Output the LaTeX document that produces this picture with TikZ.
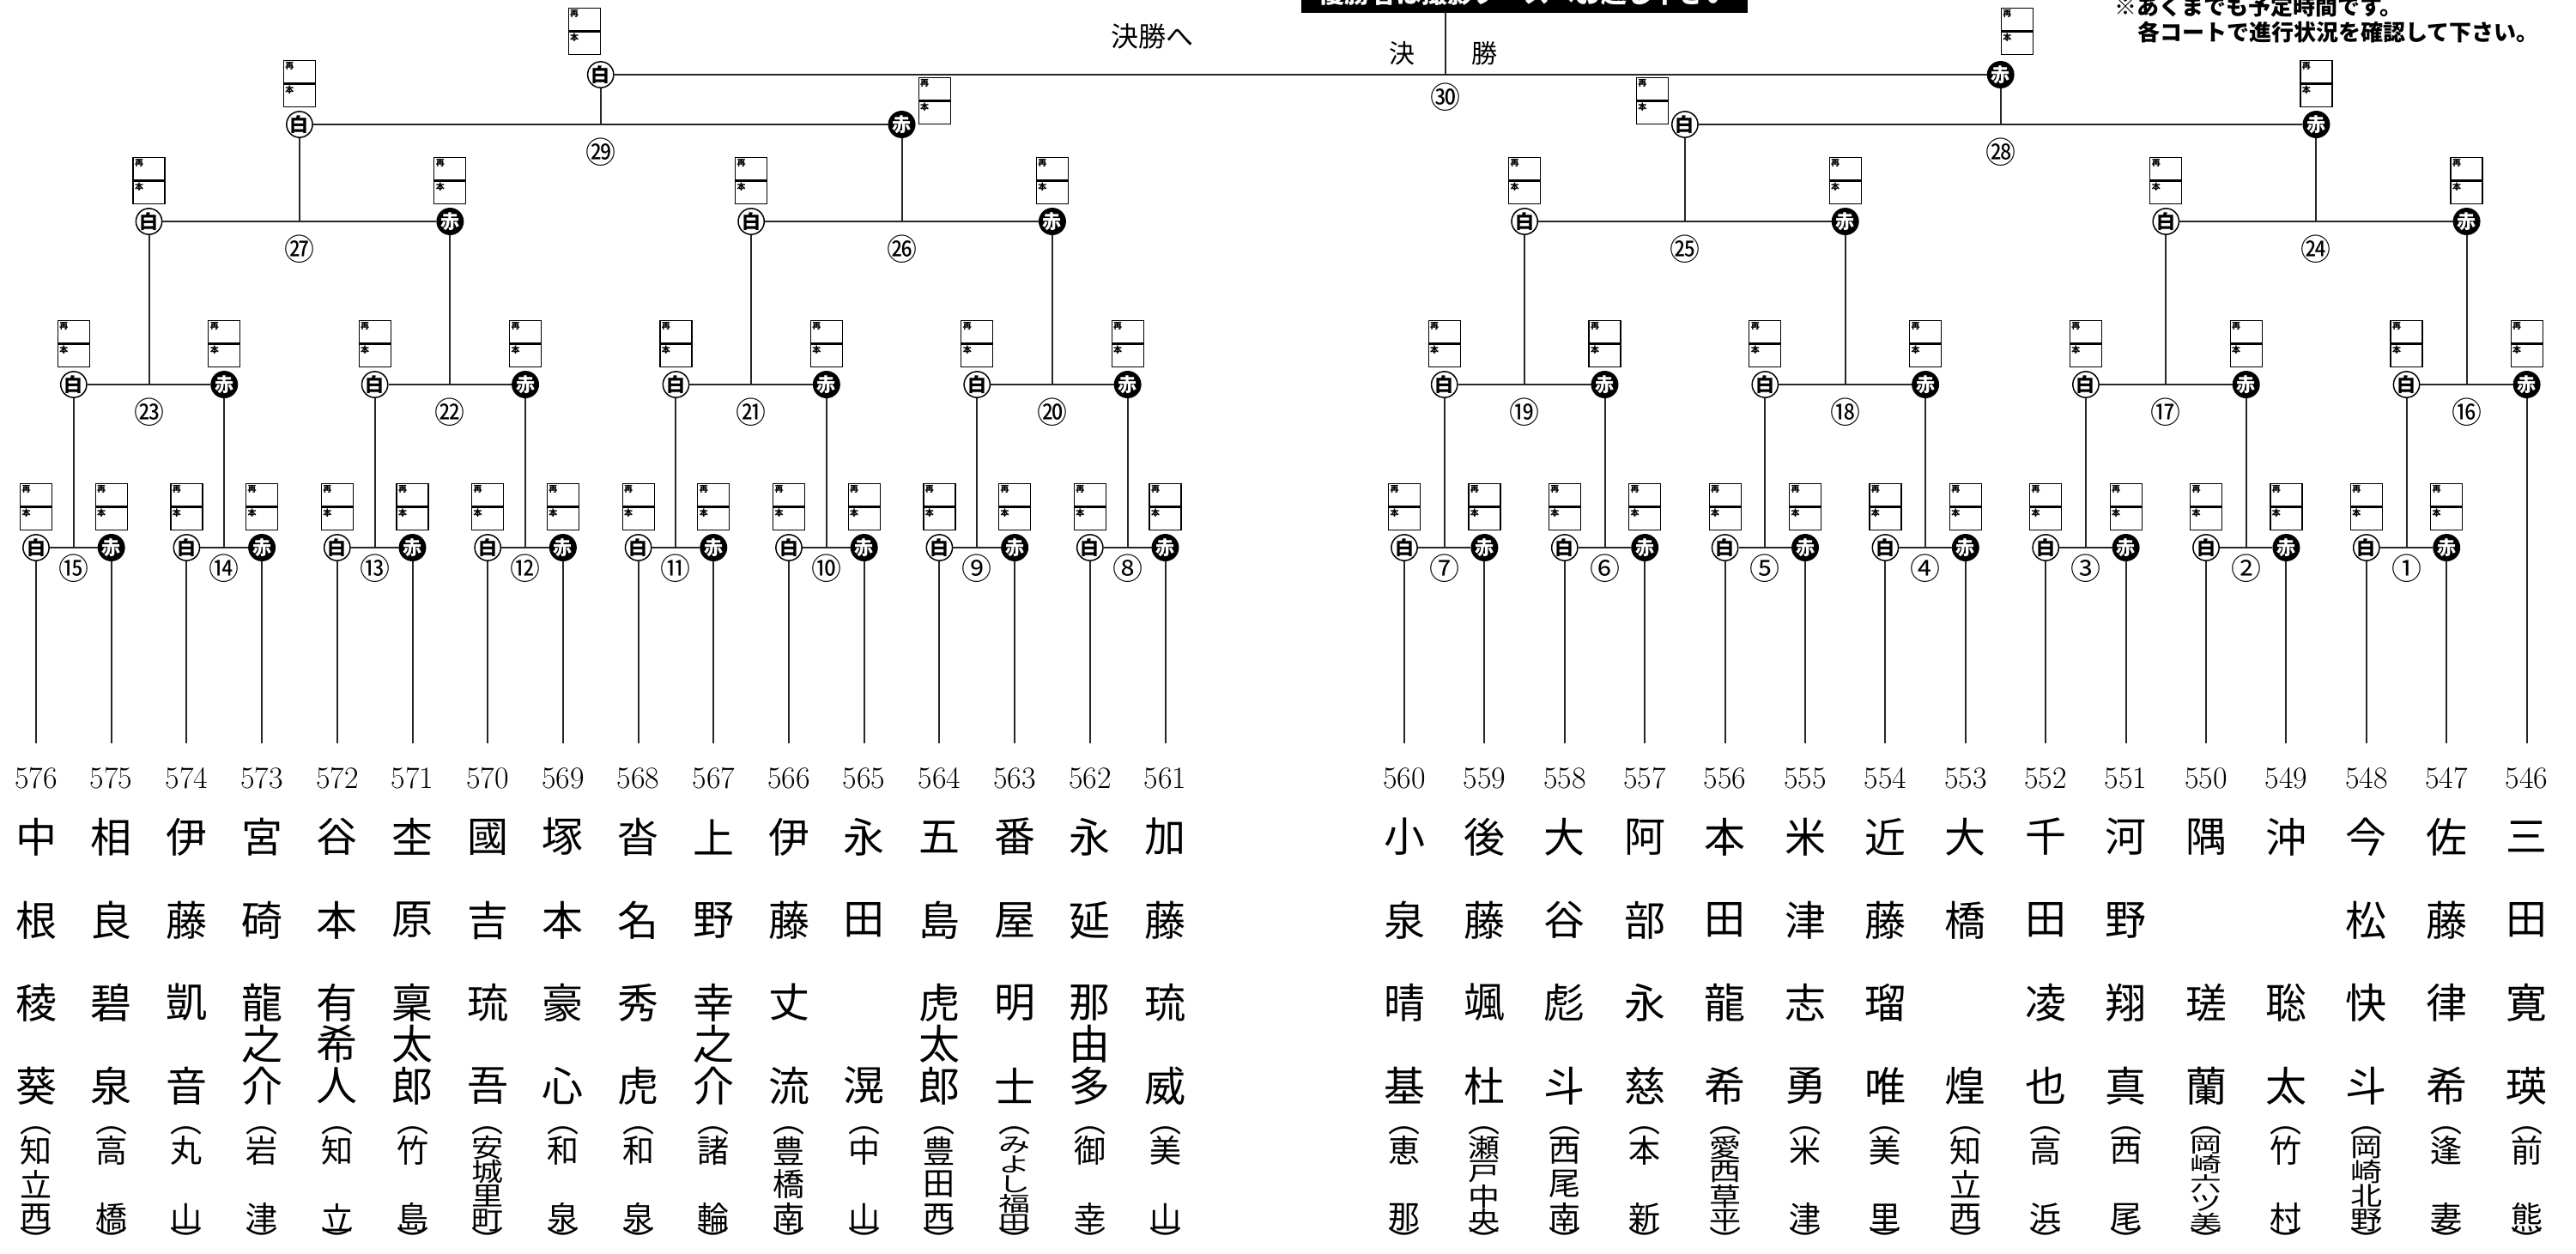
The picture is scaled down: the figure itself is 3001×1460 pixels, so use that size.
\documentclass[tikz,border=0pt]{standalone}
\usepackage{fontspec}
\usepackage{graphicx}
\newfontfamily\cjk{Noto Sans CJK JP}
\usetikzlibrary{positioning,calc}

\makeatletter
% stack the characters of #3 downwards: x, name prefix, text, first y, step, style, v-scale
\newcommand\stackchars[7]{%
  \def\sc@k{0}%
  \def\sc@body##1{\@tfor\sc@c:=##1\do{%
    \pgfmathtruncatemacro\sc@k{\sc@k+1}%
    \node[#6] (#2-\sc@k) at (#1,{-(#4)-(#5)*(\sc@k-1)}) {\scalebox{1}[#7]{\sc@c}};}}%
  \expandafter\sc@body\expandafter{#3}}
\newcommand\nchars[1]{\def\nc@n{0}%
  \def\nc@body##1{\@tfor\nc@c:=##1\do{\pgfmathtruncatemacro\nc@n{\nc@n+1}}}%
  \expandafter\nc@body\expandafter{#1}\let\ncnt\nc@n}
\makeatother

% score box: lower half placed by #2, upper half on top of it
\newcommand\score[2]{%
  \node[hb,#2] (b#1) {本};
  \node[hb,above=0pt of b#1] (t#1) {再};}
% one bout: number, white child, red child, rises, label, label drop
\newcommand\bout[7]{%
  \node[wn] (w#1) at ($(#2)+(0,#4)$) {白};
  \node[rn] (r#1) at ($(#3)+(0,#5)$) {赤};
  \coordinate (m#1) at ($(w#1)!.5!(r#1)$);
  \draw[ln] (w#1) -- (r#1) (#2) -- (w#1) (#3) -- (r#1);
  \node[mn] (l#1) at ($(m#1)+(0,-#7)$) {#6};}

\begin{document}
\begin{tikzpicture}[x=1pt,y=1pt,
 wn/.style={circle,draw,line width=1.5pt,fill=white,minimum size=29pt,inner sep=0pt,font=\cjk\bfseries\fontsize{22}{22}\selectfont},
 rn/.style={wn,fill=black,text=white},
 hb/.style={draw,line width=1.2pt,text width=33pt,align=left,inner sep=2pt,text height=8.5pt,text depth=14pt,font=\cjk\bfseries\fontsize{10}{10}\selectfont},
 mn/.style={inner sep=0pt,font=\cjk\fontsize{35}{35}\selectfont},
 nm/.style={inner sep=0pt,font=\fontsize{36}{36}\selectfont},
 nc/.style={inner sep=0pt,font=\cjk\fontsize{48}{48}\selectfont},
 hc/.style={inner sep=0pt,font=\cjk\fontsize{37}{37}\selectfont},
 ln/.style={draw=black!85,line width=2pt}]
\useasboundingbox (0,0) rectangle (3001,-1460);
\clip (0,0) rectangle (3001,-1460);

% entrants
\foreach \num/\sur/\giv/\sch [count=\i from 0] in {576/中根/稜葵/知立西,575/相良/碧泉/高橋,574/伊藤/凱音/丸山,573/宮碕/龍之介/岩津,
 572/谷本/有希人/知立,571/杢原/稟太郎/竹島,570/國吉/琉吾/安城里町,569/塚本/豪心/和泉,568/沓名/秀虎/和泉,567/上野/幸之介/諸輪,
 566/伊藤/丈流/豊橋南,565/永田/滉/中山,564/五島/虎太郎/豊田西,563/番屋/明士/みよし福田,562/永延/那由多/御幸,561/加藤/琉威/美山,
 560/小泉/晴基/恵那,559/後藤/颯杜/瀬戸中央,558/大谷/彪斗/西尾南,557/阿部/永慈/本新,556/本田/龍希/愛西草平,555/米津/志勇/米津,
 554/近藤/瑠唯/美里,553/大橋/煌/知立西,552/千田/凌也/高浜,551/河野/翔真/西尾,550/隅/瑳蘭/岡崎六ツ美,549/沖/聡太/竹村,
 548/今松/快斗/岡崎北野,547/佐藤/律希/逢妻,546/三田/寛瑛/前熊}{
 \pgfmathsetmacro\cx{\i<16 ? 42+87.7*\i : 1636+93.4*(\i-16)}
 \node[nm] (n\num) at (\cx,-907) {\num};
 \coordinate (e\num) at (\cx,-866);
 \stackchars{\cx}{s\num}{\sur}{975}{97}{nc}{1}
 \nchars{\giv}
 \pgfmathsetmacro\gy{\ncnt==1 ? 1265 : 1168}
 \pgfmathsetmacro\gs{97/max(\ncnt-1,1)}
 \stackchars{\cx}{g\num}{\giv}{\gy}{\gs}{nc}{1}
 \nchars{\sch}
 \pgfmathsetmacro\hh{min(35,113/\ncnt)}
 \pgfmathsetmacro\hf{\hh/35}
 \stackchars{\cx}{h\num}{\sch}{1323+\hh/2}{(113-\hh)/max(\ncnt-1,1)}{hc}{\hf}
 \node[hc] (o\num) at (\cx,-1317) {︵};
 \node[hc] (c\num) at (\cx,-1445) {︶};
}

% first round
\foreach \m/\a/\b/\c in {15/576/575/⑮,14/574/573/⑭,13/572/571/⑬,12/570/569/⑫,11/568/567/⑪,10/566/565/⑩,9/564/563/⑨,8/562/561/⑧,
 7/560/559/⑦,6/558/557/⑥,5/556/555/⑤,4/554/553/④,3/552/551/③,2/550/549/②,1/548/547/①}
 {\bout{\m}{e\a}{e\b}{228}{228}{\c}{24}}
% second round
\foreach \m/\a/\b/\c in {23/15/14/㉓,22/13/12/㉒,21/11/10/㉑,20/9/8/⑳,19/7/6/⑲,18/5/4/⑱,17/3/2/⑰}
 {\bout{\m}{m\a}{m\b}{190}{190}{\c}{32}}
\bout{16}{m1}{e546}{190}{418}{⑯}{32}
% third round
\foreach \m/\a/\b/\c in {27/23/22/㉗,26/21/20/㉖,25/19/18/㉕,24/17/16/㉔}
 {\bout{\m}{m\a}{m\b}{190}{190}{\c}{32}}
\bout{29}{m27}{m26}{113}{113}{㉙}{32}
\bout{28}{m25}{m24}{113}{113}{㉘}{32}

% final
\node[wn] (w30) at ($(m29)+(0,58)$) {白};
\node[rn] (r30) at ($(m28)+(0,58)$) {赤};
\coordinate (f30) at (1684,-87);
\node[fill=black,text=white,font=\cjk\bfseries\fontsize{30}{30}\selectfont,minimum width=520pt,inner sep=0pt,
 text height=40pt,text depth=11.5pt,anchor=base] (bnr) at (1776,-3.5) {優勝者は撮影ブースへお越し下さい};
\draw[ln] (w30) -- (r30) (m29) -- (w30) (m28) -- (r30) (f30) -- (f30 |- bnr.south);
\node[mn] (l30) at ($(f30)+(0,-26)$) {㉚};
\node[inner sep=0pt,font=\cjk\fontsize{30}{30}\selectfont] (k1) at (1633,-62) {決};
\node[inner sep=0pt,font=\cjk\fontsize{30}{30}\selectfont] (k2) at (1729,-62) {勝};
\node[inner sep=0pt,font=\cjk\fontsize{32}{32}\selectfont] (ttl) at (1342,-42) {決勝へ};

% score boxes
\foreach \m in {1,...,27} {\score{w\m}{above=4pt of w\m} \score{r\m}{above=4pt of r\m}}
\score{w29}{above=4pt of w29}
\score{r29}{anchor=south west,at={([xshift=3pt]r29.east)}}
\score{w28}{anchor=south east,at={([xshift=-3pt]w28.west)}}
\score{r28}{above=4pt of r28}
\score{w30}{anchor=south east,at={([yshift=7pt]w30.north)}}
\score{r30}{anchor=south west,at={([yshift=7pt]r30.north)}}

% notes
\node[anchor=west,inner sep=0pt,font=\cjk\bfseries\fontsize{26}{26}\selectfont] (nt1) at (2463,-8) {※あくまでも予定時間です。};
\node[anchor=west,inner sep=0pt,font=\cjk\bfseries\fontsize{26}{26}\selectfont] (nt2) at (2490,-37) {各コートで進行状況を確認して下さい。};
\end{tikzpicture}
\end{document}
